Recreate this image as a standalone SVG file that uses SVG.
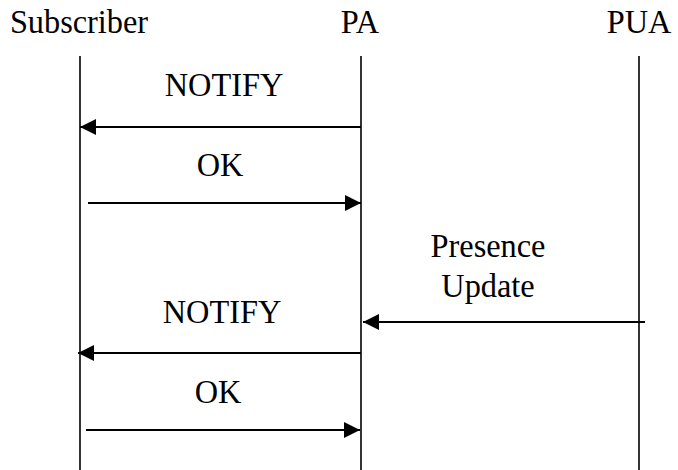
<svg xmlns="http://www.w3.org/2000/svg" width="678" height="470" viewBox="0 0 678 470">
  <style>
    .lbl { font-family: 'Liberation Serif', 'Times New Roman', Times, serif; font-size: 33px; fill: #000; text-anchor: middle; }
    .life { stroke: #000; stroke-width: 1.6; fill: none; }
    .msg { stroke: #000; stroke-width: 2.2; fill: none; }
  </style>
  <defs>
    <marker id="head" viewBox="0 0 16 16" refX="16" refY="8" markerWidth="16" markerHeight="16" markerUnits="userSpaceOnUse" orient="auto">
      <path d="M0,0 L16,8 L0,16 Z" fill="#000"/>
    </marker>
  </defs>
  <rect width="678" height="470" fill="#fff"/>

  <!-- participants with their lifelines -->
  <g id="subscriber">
    <text class="lbl" transform="translate(79 33) scale(0.98 1)">Subscriber</text>
    <line class="life" x1="80" y1="56" x2="80" y2="470"/>
  </g>
  <g id="pa">
    <text class="lbl" transform="translate(360 33) scale(0.98 1)">PA</text>
    <line class="life" x1="361" y1="56" x2="361" y2="470"/>
  </g>
  <g id="pua">
    <text class="lbl" transform="translate(639 33) scale(0.98 1)">PUA</text>
    <line class="life" x1="639" y1="56" x2="639" y2="470"/>
  </g>

  <!-- messages -->
  <g id="connectors">
    <line class="msg" x1="361" y1="127" x2="80" y2="127" marker-end="url(#head)"/>
    <text class="lbl" transform="translate(224 96) scale(0.98 1)">NOTIFY</text>

    <line class="msg" x1="88" y1="203" x2="361" y2="203" marker-end="url(#head)"/>
    <text class="lbl" transform="translate(220 176) scale(0.98 1)">OK</text>

    <line class="msg" x1="645" y1="322" x2="363" y2="322" marker-end="url(#head)"/>
    <text class="lbl" transform="translate(488 257) scale(0.98 1)">Presence</text>
    <text class="lbl" transform="translate(488 297) scale(0.98 1)">Update</text>

    <line class="msg" x1="361" y1="353" x2="78" y2="353" marker-end="url(#head)"/>
    <text class="lbl" transform="translate(222 323) scale(0.98 1)">NOTIFY</text>

    <line class="msg" x1="86" y1="430" x2="360" y2="430" marker-end="url(#head)"/>
    <text class="lbl" transform="translate(218 403) scale(0.98 1)">OK</text>
  </g>
</svg>
